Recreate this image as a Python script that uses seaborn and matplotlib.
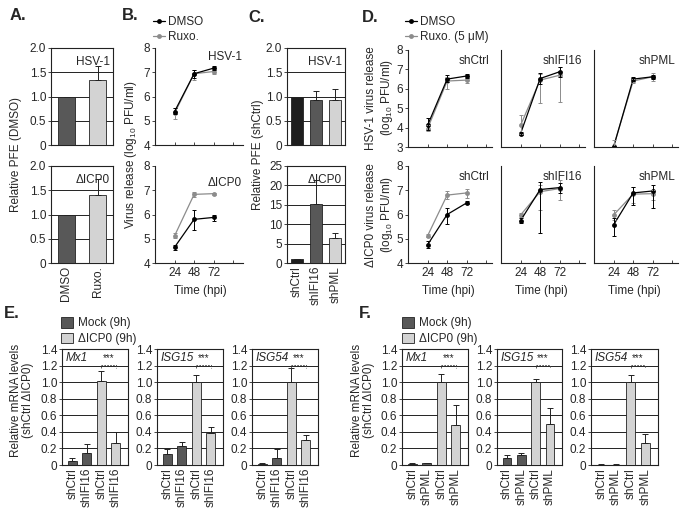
import numpy as np
import pandas as pd
import matplotlib
matplotlib.use("Agg")
import matplotlib.pyplot as plt
import seaborn as sns
from matplotlib.lines import Line2D
from matplotlib.patches import Patch

sns.set_theme(style="white")
plt.rcParams['font.family'] = ['Liberation Sans', 'DejaVu Sans']
plt.rcParams['mathtext.fontset'] = 'custom'
plt.rcParams['mathtext.rm'] = 'Liberation Sans'
plt.rcParams['mathtext.it'] = 'Liberation Sans:italic'
plt.rcParams['mathtext.bf'] = 'Liberation Sans:bold'

# ---------------- data ----------------
# Panel A
a_conditions = ["DMSO", "Ruxo."]
a_hsv_pfe = [1.0, 1.34]
a_hsv_err = [0.0, 0.28]
a_icp0_pfe = [1.0, 1.40]
a_icp0_err = [0.0, 0.33]

# Panel B
times = [24, 48, 72]
b_hsv_dmso = [5.38, 6.94, 7.17]
b_hsv_dmso_lo = [0.10, 0.18, 0.07]
b_hsv_dmso_hi = [0.14, 0.17, 0.07]
b_hsv_ruxo = [5.31, 6.94, 7.03]
b_hsv_ruxo_lo = [0.24, 0.25, 0.10]
b_hsv_ruxo_hi = [0.21, 0.14, 0.07]
b_icp0_dmso = [4.65, 5.80, 5.88]
b_icp0_dmso_lo = [0.11, 0.45, 0.14]
b_icp0_dmso_hi = [0.10, 0.39, 0.10]
b_icp0_ruxo = [5.12, 6.83, 6.86]
b_icp0_ruxo_lo = [0.10, 0.11, 0.04]
b_icp0_ruxo_hi = [0.11, 0.10, 0.04]

# Panel C
c_cells = ["shCtrl", "shIFI16", "shPML"]
c_hsv_pfe = [1.0, 0.92, 0.93]
c_hsv_err = [0.0, 0.20, 0.23]
c_icp0_pfe = [1.0, 15.2, 6.5]
c_icp0_err = [0.0, 6.3, 1.3]

# Panel D (rows: shCtrl, shIFI16, shPML ; columns: 24, 48, 72 hpi)
d_cells = ["shCtrl", "shIFI16", "shPML"]
d_hsv_dmso = [[4.12, 6.50, 6.66], [3.69, 6.53, 6.88], [3.00, 6.50, 6.62]]
d_hsv_dmso_lo = [[0.26, 0.17, 0.08], [0.08, 0.26, 0.26], [0.03, 0.12, 0.10]]
d_hsv_dmso_hi = [[0.35, 0.20, 0.10], [0.09, 0.26, 0.26], [0.03, 0.12, 0.10]]
d_hsv_ruxo = [[3.95, 6.40, 6.45], [4.12, 6.45, 6.70], [3.03, 6.40, 6.62]]
d_hsv_ruxo_lo = [[0.12, 0.40, 0.14], [0.43, 1.17, 1.40], [0.03, 0.12, 0.22]]
d_hsv_ruxo_hi = [[0.17, 0.22, 0.09], [0.52, 0.31, 0.40], [0.33, 0.12, 0.17]]
d_icp0_dmso = [[4.75, 6.00, 6.48], [5.75, 7.03, 7.11], [5.57, 6.89, 6.97]]
d_icp0_dmso_lo = [[0.14, 0.40, 0.06], [0.11, 1.80, 0.24], [0.47, 0.50, 0.72]]
d_icp0_dmso_hi = [[0.14, 0.25, 0.08], [0.10, 0.31, 0.19], [0.27, 0.25, 0.23]]
d_icp0_ruxo = [[5.12, 6.80, 6.89], [5.98, 6.94, 7.07], [5.98, 6.84, 6.86]]
d_icp0_ruxo_lo = [[0.06, 0.18, 0.23], [0.07, 0.76, 0.47], [0.20, 0.37, 0.27]]
d_icp0_ruxo_hi = [[0.06, 0.18, 0.18], [0.07, 0.26, 0.34], [0.20, 0.31, 0.14]]

# Panels E / F
genes = ["Mx1", "ISG15", "ISG54"]
e_labels = ["shCtrl", "shIFI16", "shCtrl", "shIFI16"]
e_mx1 = [0.05, 0.15, 1.01, 0.27]
e_mx1_err = [0.04, 0.10, 0.13, 0.13]
e_isg15 = [0.13, 0.23, 1.00, 0.39]
e_isg15_err = [0.06, 0.05, 0.09, 0.07]
e_isg54 = [0.01, 0.09, 1.00, 0.30]
e_isg54_err = [0.01, 0.10, 0.17, 0.06]
f_labels = ["shCtrl", "shPML", "shCtrl", "shPML"]
f_mx1 = [0.015, 0.02, 1.00, 0.48]
f_mx1_err = [0.01, 0.01, 0.10, 0.25]
f_isg15 = [0.09, 0.12, 1.00, 0.49]
f_isg15_err = [0.03, 0.03, 0.04, 0.20]
f_isg54 = [0.005, 0.005, 1.00, 0.27]
f_isg54_err = [0.004, 0.004, 0.09, 0.10]

# ---------------- style ----------------
DARK = "#585858"
LIGHT = "#d3d3d3"
BLACKISH = "#1e1e1e"
GREY_LINE = "#8c8c8c"
FS = 8.5

W, H = 683, 512
fig = plt.figure(figsize=(W / 100, H / 100), dpi=100)


def add_ax(l, t, r, b):
    return fig.add_axes([l / W, 1 - b / H, (r - l) / W, (b - t) / H])


def ftext(x, y, s, **kw):
    fig.text(x / W, 1 - y / H, s, **kw)


def style_box(ax):
    for sp in ax.spines.values():
        sp.set_visible(True)
        sp.set_linewidth(0.8)
        sp.set_color("#222222")
    ax.tick_params(axis="y", length=2.5, width=0.6, direction="out", labelsize=FS, pad=1, left=True)
    ax.tick_params(axis="x", length=0, labelsize=FS, pad=2, bottom=True)


def bar_panel(ax, cats, vals, errs, colors, ylim, yticks, ylabels, width, xlim=None):
    df = pd.DataFrame({"cat": cats, "val": vals})
    sns.barplot(data=df, x="cat", y="val", hue="cat", palette=dict(zip(cats, colors)),
                legend=False, width=width, edgecolor="#222222", linewidth=0.6,
                ax=ax, zorder=3, saturation=1)
    n = len(cats)
    ax.errorbar(range(n), vals, yerr=[np.zeros(n), errs], fmt="none", ecolor="#222222",
                elinewidth=0.7, capsize=2, capthick=0.7, zorder=4)
    for t in yticks[1:-1]:
        ax.axhline(t, color="#222222", lw=0.7, zorder=1)
    ax.set_ylim(*ylim)
    ax.set_yticks(yticks)
    ax.set_yticklabels(ylabels)
    if xlim is not None:
        ax.set_xlim(*xlim)
    else:
        ax.set_xlim(-0.5, n - 0.5)
    ax.set_xlabel("")
    ax.set_ylabel("")
    style_box(ax)


def line_panel(ax, dm, dm_lo, dm_hi, rx, rx_lo, rx_hi, ylim, yticks, show_y, xmax):
    df = pd.DataFrame({"t": times * 2, "v": list(rx) + list(dm),
                       "cond": ["Ruxo"] * 3 + ["DMSO"] * 3})
    sns.lineplot(data=df, x="t", y="v", hue="cond", hue_order=["Ruxo", "DMSO"],
                 palette={"DMSO": "black", "Ruxo": GREY_LINE}, marker="o", markersize=3.5,
                 markeredgewidth=0, linewidth=0.9, legend=False, ax=ax)
    ax.errorbar(times, rx, yerr=[rx_lo, rx_hi], fmt="none", ecolor=GREY_LINE,
                elinewidth=0.7, capsize=1.5, capthick=0.7)
    ax.errorbar(times, dm, yerr=[dm_lo, dm_hi], fmt="none", ecolor="black",
                elinewidth=0.7, capsize=1.5, capthick=0.7)
    ax.set_ylim(*ylim)
    ax.set_xlim(0, xmax)
    ax.set_xticks([24, 48, 72, 96])
    ax.set_xticklabels(["24", "48", "72", ""])
    ax.set_yticks(yticks)
    if show_y:
        ax.set_yticklabels([str(v) for v in yticks])
        ax.tick_params(axis="y", length=2.5, width=0.6, direction="out", labelsize=FS, pad=1, left=True)
    else:
        ax.set_yticklabels([])
        ax.tick_params(axis="y", length=0, left=False)
    ax.tick_params(axis="x", length=2.5, width=0.6, direction="in", labelsize=FS, pad=3, bottom=True)
    ax.set_xlabel("")
    ax.set_ylabel("")
    for s in ["top", "right"]:
        ax.spines[s].set_visible(False)
    for s in ["left", "bottom"]:
        ax.spines[s].set_linewidth(0.8)
        ax.spines[s].set_color("#222222")


# ---------------- Panel A ----------------
ax = add_ax(51, 48, 113, 145)
bar_panel(ax, a_conditions, a_hsv_pfe, a_hsv_err, [DARK, LIGHT], (0, 2),
          [0, 0.5, 1.0, 1.5, 2.0], ["0", "0.5", "1.0", "1.5", "2.0"], 0.55)
ax.set_xticklabels([])
ax.text(0.95, 0.92, "HSV-1", transform=ax.transAxes, ha="right", va="top", fontsize=FS)
ax = add_ax(51, 166, 113, 263)
bar_panel(ax, a_conditions, a_icp0_pfe, a_icp0_err, [DARK, LIGHT], (0, 2),
          [0, 0.5, 1.0, 1.5, 2.0], ["0", "0.5", "1.0", "1.5", "2.0"], 0.55)
ax.set_xticks(range(2))
ax.set_xticklabels(a_conditions, rotation=90)
ax.text(0.95, 0.92, "ΔICP0", transform=ax.transAxes, ha="right", va="top", fontsize=FS)
ftext(16, 155, "Relative PFE (DMSO)", rotation=90, ha="center", va="center", fontsize=FS)

# ---------------- Panel B ----------------
ax = add_ax(155, 48, 243, 145)
line_panel(ax, b_hsv_dmso, b_hsv_dmso_lo, b_hsv_dmso_hi, b_hsv_ruxo, b_hsv_ruxo_lo,
           b_hsv_ruxo_hi, (4, 8), [4, 5, 6, 7, 8], True, 108)
ax.set_xticklabels([])
ax.text(0.99, 0.97, "HSV-1", transform=ax.transAxes, ha="right", va="top", fontsize=FS)
ax = add_ax(155, 166, 243, 263)
line_panel(ax, b_icp0_dmso, b_icp0_dmso_lo, b_icp0_dmso_hi, b_icp0_ruxo, b_icp0_ruxo_lo,
           b_icp0_ruxo_hi, (4, 8), [4, 5, 6, 7, 8], True, 108)
ax.text(0.99, 0.89, "ΔICP0", transform=ax.transAxes, ha="right", va="top", fontsize=FS)
ftext(131, 155, "Virus release (log$_{10}$ PFU/ml)", rotation=90, ha="center", va="center", fontsize=FS)
ftext(200, 291, "Time (hpi)", ha="center", va="center", fontsize=FS)
leg_handles = [Line2D([0], [0], color="black", marker="o", markersize=3.5, lw=0.9, markeredgewidth=0),
               Line2D([0], [0], color=GREY_LINE, marker="o", markersize=3.5, lw=0.9, markeredgewidth=0)]
fig.legend(leg_handles, ["DMSO", "Ruxo."], loc="upper left", bbox_to_anchor=(153 / W, 1 - 16 / H),
           frameon=False, fontsize=FS, handlelength=1.0, handletextpad=0.3, labelspacing=0.25,
           borderaxespad=0, borderpad=0)

# ---------------- Panel C ----------------
c_colors = [BLACKISH, DARK, LIGHT]
ax = add_ax(287, 48, 345, 145)
bar_panel(ax, c_cells, c_hsv_pfe, c_hsv_err, c_colors, (0, 2),
          [0, 0.5, 1.0, 1.5, 2.0], ["0", "0.5", "1.0", "1.5", "2.0"], 0.62)
ax.set_xticklabels([])
ax.text(0.95, 0.92, "HSV-1", transform=ax.transAxes, ha="right", va="top", fontsize=FS)
ax = add_ax(287, 166, 345, 263)
bar_panel(ax, c_cells, c_icp0_pfe, c_icp0_err, c_colors, (0, 25),
          [0, 5, 10, 15, 20, 25], ["0", "5", "10", "15", "20", "25"], 0.62)
ax.set_xticks(range(3))
ax.set_xticklabels(c_cells, rotation=90)
ax.text(0.95, 0.92, "ΔICP0", transform=ax.transAxes, ha="right", va="top", fontsize=FS)
ftext(258, 155, "Relative PFE (shCtrl)", rotation=90, ha="center", va="center", fontsize=FS)

# ---------------- Panel D ----------------
d_x = [(408, 492), (501, 585), (594, 678)]
for i, (l, r) in enumerate(d_x):
    ax = add_ax(l, 50, r, 147)
    line_panel(ax, d_hsv_dmso[i], d_hsv_dmso_lo[i], d_hsv_dmso_hi[i], d_hsv_ruxo[i],
               d_hsv_ruxo_lo[i], d_hsv_ruxo_hi[i], (3, 8), [3, 4, 5, 6, 7, 8], i == 0, 103)
    ax.set_xticklabels([])
    ax.text(0.97, 0.95, d_cells[i], transform=ax.transAxes, ha="right", va="top", fontsize=FS)
    ax = add_ax(l, 166, r, 263)
    line_panel(ax, d_icp0_dmso[i], d_icp0_dmso_lo[i], d_icp0_dmso_hi[i], d_icp0_ruxo[i],
               d_icp0_ruxo_lo[i], d_icp0_ruxo_hi[i], (4, 8), [4, 5, 6, 7, 8], i == 0, 103)
    ax.text(0.97, 0.95, d_cells[i], transform=ax.transAxes, ha="right", va="top", fontsize=FS)
    ftext(l + 40, 291, "Time (hpi)", ha="center", va="center", fontsize=FS)
ftext(380, 98, "HSV-1 virus release\n(log$_{10}$ PFU/ml)", rotation=90, ha="center", va="center",
      fontsize=FS, linespacing=1.1)
ftext(380, 215, "ΔICP0 virus release\n(log$_{10}$ PFU/ml)", rotation=90, ha="center", va="center",
      fontsize=FS, linespacing=1.1)
fig.legend(leg_handles, ["DMSO", "Ruxo. (5 μM)"], loc="upper left", bbox_to_anchor=(405 / W, 1 - 16 / H),
           frameon=False, fontsize=FS, handlelength=1.0, handletextpad=0.3, labelspacing=0.25,
           borderaxespad=0, borderpad=0)


# ---------------- Panels E / F ----------------
def mrna_panel(l, r, labels, vals, errs, gene):
    ax = add_ax(l, 349, r, 465)
    ids = [f"{lab}_{k}" for k, lab in enumerate(labels)]
    bar_panel(ax, ids, vals, errs, [DARK, DARK, LIGHT, LIGHT], (0, 1.4),
              [0, 0.2, 0.4, 0.6, 0.8, 1.0, 1.2, 1.4],
              ["0", "0.2", "0.4", "0.6", "0.8", "1.0", "1.2", "1.4"], 0.6, xlim=(-0.7, 3.85))
    ax.set_xticks(range(4))
    ax.set_xticklabels(labels, rotation=90)
    ax.text(0.06, 0.97, gene, transform=ax.transAxes, ha="left", va="top", fontsize=FS, style="italic")
    ax.plot([2, 2, 3, 3], [1.17, 1.21, 1.21, 1.17], color="#444444", lw=0.6, ls=(0, (2, 1.5)), zorder=5)
    ax.text(2.5, 1.23, "***", ha="center", va="bottom", fontsize=7, zorder=5)
    return ax


e_sets = [(e_mx1, e_mx1_err), (e_isg15, e_isg15_err), (e_isg54, e_isg54_err)]
for (l, r), (v, e), g in zip([(62, 128), (157, 223), (252, 318)], e_sets, genes):
    mrna_panel(l, r, e_labels, v, e, g)
f_sets = [(f_mx1, f_mx1_err), (f_isg15, f_isg15_err), (f_isg54, f_isg54_err)]
for (l, r), (v, e), g in zip([(402, 468), (497, 562), (591, 658)], f_sets, genes):
    mrna_panel(l, r, f_labels, v, e, g)

for x0 in (16, 357):
    ftext(x0 + 6, 400, "Relative mRNA levels\n(shCtrl ΔICP0)", rotation=90, ha="center", va="center",
          fontsize=FS, linespacing=1.1)

bar_handles = [Patch(facecolor=DARK, edgecolor="#222222", linewidth=0.6),
               Patch(facecolor=LIGHT, edgecolor="#222222", linewidth=0.6)]
for x0 in (61, 402):
    fig.legend(bar_handles, ["Mock (9h)", "ΔICP0 (9h)"], loc="upper left",
               bbox_to_anchor=(x0 / W, 1 - 317 / H), frameon=False, fontsize=FS,
               handlelength=1.0, handleheight=1.0, handletextpad=0.4, labelspacing=0.3,
               borderaxespad=0, borderpad=0)

# ---------------- panel letters ----------------
for x, y, s in [(10, 15, "A."), (122, 15, "B."), (248, 17, "C."), (362, 17, "D."),
                (4, 313, "E."), (359, 313, "F.")]:
    ftext(x, y, s, fontsize=12, fontweight="bold", ha="left", va="center")

fig.savefig("out.png", dpi=100)
